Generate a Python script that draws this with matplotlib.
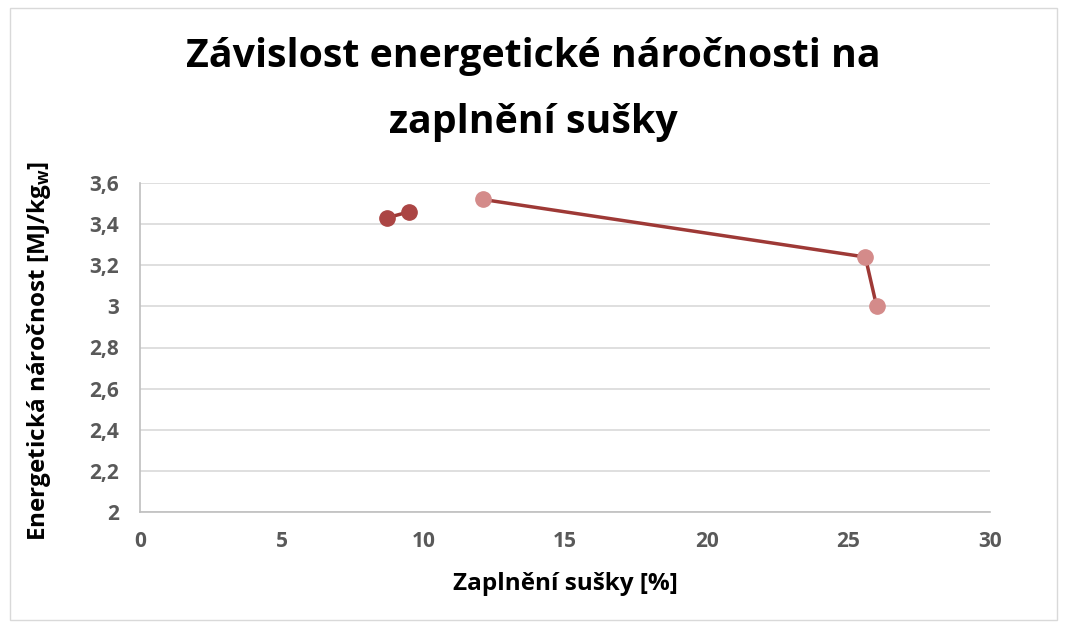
import matplotlib
matplotlib.use("Agg")
import matplotlib.pyplot as plt
from matplotlib.patches import Rectangle

# Data
s1_x = [8.7, 9.5]
s1_y = [3.43, 3.46]
s2_x = [12.1, 25.6, 26.0]
s2_y = [3.52, 3.24, 3.00]
x_ticks = [0, 5, 10, 15, 20, 25, 30]
y_ticks = [2.0, 2.2, 2.4, 2.6, 2.8, 3.0, 3.2, 3.4, 3.6]
y_tick_labels = ["2", "2,2", "2,4", "2,6", "2,8", "3", "3,2", "3,4", "3,6"]
title_lines = ['Závislost energetické náročnosti na', 'zaplnění sušky']

plt.rcParams['font.family'] = ['Open Sans', 'DejaVu Sans']

fig = plt.figure(figsize=(10.67, 6.3), dpi=100)
ax = fig.add_axes([140/1067, 1-512/630, 850/1067, 329/630])

line_col = '#9E3936'
ax.plot(s1_x, s1_y, color=line_col, lw=2.5, marker='o', ms=11,
        mfc='#AB4544', mec='#AB4544', zorder=3)
ax.plot(s2_x, s2_y, color=line_col, lw=2.5, marker='o', ms=11,
        mfc='#D48B8A', mec='#D48B8A', zorder=3)

ax.set_xlim(0, 30)
ax.set_ylim(2, 3.6)
ax.set_xticks(x_ticks)
ax.set_yticks(y_ticks)
ax.set_yticklabels(y_tick_labels)
ax.grid(axis='y', color='#D9D9D9', lw=1.2)
ax.set_axisbelow(True)
for s in ['top', 'right']:
    ax.spines[s].set_visible(False)
for s in ['left', 'bottom']:
    ax.spines[s].set_color('#BFBFBF')
    ax.spines[s].set_linewidth(1.2)
ax.tick_params(length=0, labelsize=15, labelcolor='#595959')
for lab in ax.get_xticklabels() + ax.get_yticklabels():
    lab.set_fontweight('bold')
ax.tick_params(axis='x', pad=14)
ax.tick_params(axis='y', pad=15)

ax.set_xlabel('Zaplnění sušky [%]', fontsize=17.5, fontweight='bold')
ax.set_ylabel(r'Energetická náročnost [MJ/kg$_\mathregular{w}$]', fontsize=17.5,
              fontweight='bold')
ax.yaxis.set_label_coords(-87/850, 0.49)
ax.xaxis.set_label_coords(0.5, -60/329)

fig.text(0.5, 1-67/630, title_lines[0], ha='center', va='baseline',
         fontsize=28.3, fontweight='bold')
fig.text(0.5, 1-133/630, title_lines[1], ha='center', va='baseline',
         fontsize=28.3, fontweight='bold')

fig.patches.append(Rectangle((10/1067, 1-620/630), 1047/1067, 612/630,
                             transform=fig.transFigure, fill=False,
                             edgecolor='#D9D9D9', lw=1))

fig.savefig('out.png', dpi=100)
